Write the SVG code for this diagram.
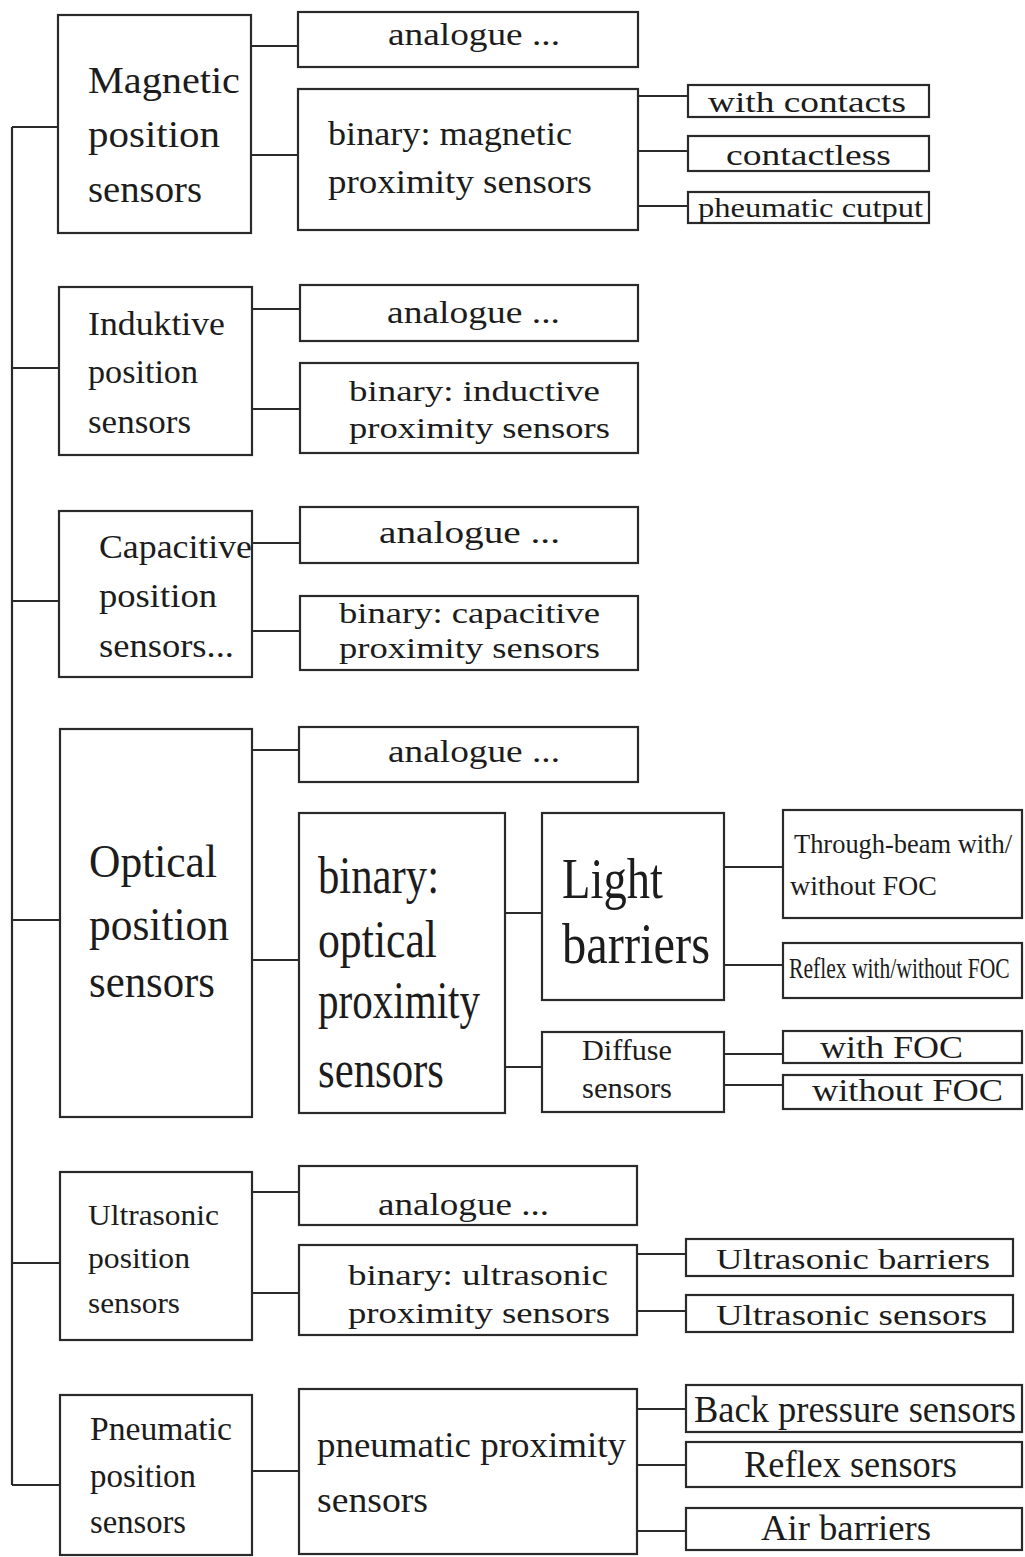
<svg xmlns="http://www.w3.org/2000/svg" width="1025" height="1557" viewBox="0 0 1025 1557">
<style>
rect{fill:#fff;stroke:#2a2a2a;stroke-width:2.2}
.c path{fill:none;stroke:#2a2a2a;stroke-width:2.2}
text{font-family:"Liberation Serif","Times New Roman",serif;fill:#1c1c1c}
</style>
<rect x="0" y="0" width="1025" height="1557" style="fill:#fff;stroke:none"/>
<g class="c" id="connectors">
<path d="M12,127 V1485"/>
<path d="M12,127 H58 M251,46 H298 M251,155 H298 M638,96 H688 M638,151 H688 M638,206 H688"/>
<path d="M12,368 H59 M252,309 H300 M252,409 H300"/>
<path d="M12,601 H59 M252,543 H300 M252,631 H300"/>
<path d="M12,920 H60 M252,750 H299 M252,960 H299 M505,913 H542 M505,1067 H542 M724,867 H783 M724,965 H783 M724,1054 H783 M724,1085 H783"/>
<path d="M12,1263 H60 M252,1192 H299 M252,1293 H299 M637,1254 H686 M637,1311 H686"/>
<path d="M12,1485 H60 M252,1471 H299 M637,1409 H686 M637,1465 H686 M637,1531 H686"/>
</g>
<g id="magnetic"><rect x="58" y="15" width="193" height="218"/>
<text font-size="38" x="88" y="93" textLength="152" lengthAdjust="spacingAndGlyphs">Magnetic</text>
<text font-size="38" x="88" y="147" textLength="132" lengthAdjust="spacingAndGlyphs">position</text>
<text font-size="38" x="88" y="202" textLength="114" lengthAdjust="spacingAndGlyphs">sensors</text></g>
<g id="mag-analogue"><rect x="298" y="12" width="340" height="55"/>
<text font-size="32" x="388" y="45" textLength="172" lengthAdjust="spacingAndGlyphs">analogue ...</text></g>
<g id="mag-binary"><rect x="298" y="89" width="340" height="141"/>
<text font-size="34" x="328" y="145" textLength="244" lengthAdjust="spacingAndGlyphs">binary: magnetic</text>
<text font-size="34" x="328" y="193" textLength="264" lengthAdjust="spacingAndGlyphs">proximity sensors</text></g>
<g id="with-contacts"><rect x="688" y="85" width="241" height="32"/>
<text font-size="29" x="708" y="112" textLength="198" lengthAdjust="spacingAndGlyphs">with contacts</text></g>
<g id="contactless"><rect x="688" y="136" width="241" height="35"/>
<text font-size="29" x="726" y="165" textLength="165" lengthAdjust="spacingAndGlyphs">contactless</text></g>
<g id="pneumatic-output"><rect x="688" y="192" width="241" height="31"/>
<text font-size="28" x="698" y="217" textLength="225" lengthAdjust="spacingAndGlyphs">pheumatic cutput</text></g>

<g id="inductive"><rect x="59" y="287" width="193" height="168"/>
<text font-size="33" x="88" y="335" textLength="137" lengthAdjust="spacingAndGlyphs">Induktive</text>
<text font-size="33" x="88" y="383" textLength="110" lengthAdjust="spacingAndGlyphs">position</text>
<text font-size="33" x="88" y="433" textLength="103" lengthAdjust="spacingAndGlyphs">sensors</text></g>
<g id="ind-analogue"><rect x="300" y="285" width="338" height="56"/>
<text font-size="32" x="387" y="323" textLength="173" lengthAdjust="spacingAndGlyphs">analogue ...</text></g>
<g id="ind-binary"><rect x="300" y="363" width="338" height="90"/>
<text font-size="30" x="349" y="401" textLength="251" lengthAdjust="spacingAndGlyphs">binary: inductive</text>
<text font-size="30" x="349" y="438" textLength="261" lengthAdjust="spacingAndGlyphs">proximity sensors</text></g>

<g id="capacitive"><rect x="59" y="511" width="193" height="166"/>
<text font-size="33" x="99" y="558" textLength="153" lengthAdjust="spacingAndGlyphs">Capacitive</text>
<text font-size="33" x="99" y="607" textLength="118" lengthAdjust="spacingAndGlyphs">position</text>
<text font-size="33" x="99" y="657" textLength="135" lengthAdjust="spacingAndGlyphs">sensors...</text></g>
<g id="cap-analogue"><rect x="300" y="507" width="338" height="56"/>
<text font-size="32" x="379" y="543" textLength="181" lengthAdjust="spacingAndGlyphs">analogue ...</text></g>
<g id="cap-binary"><rect x="300" y="596" width="338" height="74"/>
<text font-size="30" x="339" y="623" textLength="261" lengthAdjust="spacingAndGlyphs">binary: capacitive</text>
<text font-size="30" x="339" y="658" textLength="261" lengthAdjust="spacingAndGlyphs">proximity sensors</text></g>

<g id="optical"><rect x="60" y="729" width="192" height="388"/>
<text font-size="46" x="89" y="877" textLength="128" lengthAdjust="spacingAndGlyphs">Optical</text>
<text font-size="46" x="89" y="940" textLength="140" lengthAdjust="spacingAndGlyphs">position</text>
<text font-size="46" x="89" y="997" textLength="126" lengthAdjust="spacingAndGlyphs">sensors</text></g>
<g id="opt-analogue"><rect x="299" y="727" width="339" height="55"/>
<text font-size="32" x="388" y="762" textLength="172" lengthAdjust="spacingAndGlyphs">analogue ...</text></g>
<g id="opt-binary"><rect x="299" y="813" width="206" height="300"/>
<text font-size="52" x="318" y="893" textLength="121" lengthAdjust="spacingAndGlyphs">binary:</text>
<text font-size="52" x="318" y="957" textLength="119" lengthAdjust="spacingAndGlyphs">optical</text>
<text font-size="52" x="318" y="1018" textLength="162" lengthAdjust="spacingAndGlyphs">proximity</text>
<text font-size="52" x="318" y="1087" textLength="126" lengthAdjust="spacingAndGlyphs">sensors</text></g>
<g id="light-barriers"><rect x="542" y="813" width="182" height="187"/>
<text font-size="56" x="562" y="898" textLength="101" lengthAdjust="spacingAndGlyphs">Light</text>
<text font-size="56" x="562" y="963" textLength="148" lengthAdjust="spacingAndGlyphs">barriers</text></g>
<g id="through-beam"><rect x="783" y="810" width="239" height="108"/>
<text font-size="28" x="794" y="853" textLength="218" lengthAdjust="spacingAndGlyphs">Through-beam with/</text>
<text font-size="28" x="790" y="895" textLength="147" lengthAdjust="spacingAndGlyphs">without FOC</text></g>
<g id="reflex-foc"><rect x="783" y="943" width="239" height="55"/>
<text font-size="30" transform="translate(789,978) scale(0.72,1)">Reflex with/without FOC</text></g>
<g id="diffuse"><rect x="542" y="1032" width="182" height="80"/>
<text font-size="29" x="582" y="1060" textLength="90" lengthAdjust="spacingAndGlyphs">Diffuse</text>
<text font-size="29" x="582" y="1098" textLength="90" lengthAdjust="spacingAndGlyphs">sensors</text></g>
<g id="with-foc"><rect x="783" y="1031" width="239" height="32"/>
<text font-size="32" x="820" y="1058" textLength="143" lengthAdjust="spacingAndGlyphs">with FOC</text></g>
<g id="without-foc"><rect x="783" y="1075" width="239" height="34"/>
<text font-size="32" x="812" y="1101" textLength="191" lengthAdjust="spacingAndGlyphs">without FOC</text></g>

<g id="ultrasonic"><rect x="60" y="1172" width="192" height="168"/>
<text font-size="30" x="88" y="1225" textLength="131" lengthAdjust="spacingAndGlyphs">Ultrasonic</text>
<text font-size="30" x="88" y="1268" textLength="102" lengthAdjust="spacingAndGlyphs">position</text>
<text font-size="30" x="88" y="1313" textLength="92" lengthAdjust="spacingAndGlyphs">sensors</text></g>
<g id="us-analogue"><rect x="299" y="1166" width="338" height="59"/>
<text font-size="32" x="378" y="1215" textLength="171" lengthAdjust="spacingAndGlyphs">analogue ...</text></g>
<g id="us-binary"><rect x="299" y="1245" width="338" height="90"/>
<text font-size="30" x="348" y="1285" textLength="260" lengthAdjust="spacingAndGlyphs">binary: ultrasonic</text>
<text font-size="30" x="348" y="1323" textLength="262" lengthAdjust="spacingAndGlyphs">proximity sensors</text></g>
<g id="us-barriers"><rect x="686" y="1239" width="327" height="37"/>
<text font-size="30" x="716" y="1269" textLength="274" lengthAdjust="spacingAndGlyphs">Ultrasonic barriers</text></g>
<g id="us-sensors"><rect x="686" y="1295" width="327" height="37"/>
<text font-size="30" x="716" y="1325" textLength="271" lengthAdjust="spacingAndGlyphs">Ultrasonic sensors</text></g>

<g id="pneumatic"><rect x="60" y="1395" width="192" height="160"/>
<text font-size="33" x="90" y="1440" textLength="142" lengthAdjust="spacingAndGlyphs">Pneumatic</text>
<text font-size="33" x="90" y="1487" textLength="106" lengthAdjust="spacingAndGlyphs">position</text>
<text font-size="33" x="90" y="1533" textLength="96" lengthAdjust="spacingAndGlyphs">sensors</text></g>
<g id="pn-proximity"><rect x="299" y="1389" width="338" height="165"/>
<text font-size="35" x="317" y="1457" textLength="309" lengthAdjust="spacingAndGlyphs">pneumatic proximity</text>
<text font-size="35" x="317" y="1512" textLength="111" lengthAdjust="spacingAndGlyphs">sensors</text></g>
<g id="back-pressure"><rect x="686" y="1385" width="336" height="47"/>
<text font-size="37" x="694" y="1422" textLength="322" lengthAdjust="spacingAndGlyphs">Back pressure sensors</text></g>
<g id="reflex-sensors"><rect x="686" y="1442" width="336" height="45"/>
<text font-size="37" x="744" y="1477" textLength="213" lengthAdjust="spacingAndGlyphs">Reflex sensors</text></g>
<g id="air-barriers"><rect x="686" y="1508" width="336" height="42"/>
<text font-size="35" x="761" y="1540" textLength="170" lengthAdjust="spacingAndGlyphs">Air barriers</text></g>
</svg>
